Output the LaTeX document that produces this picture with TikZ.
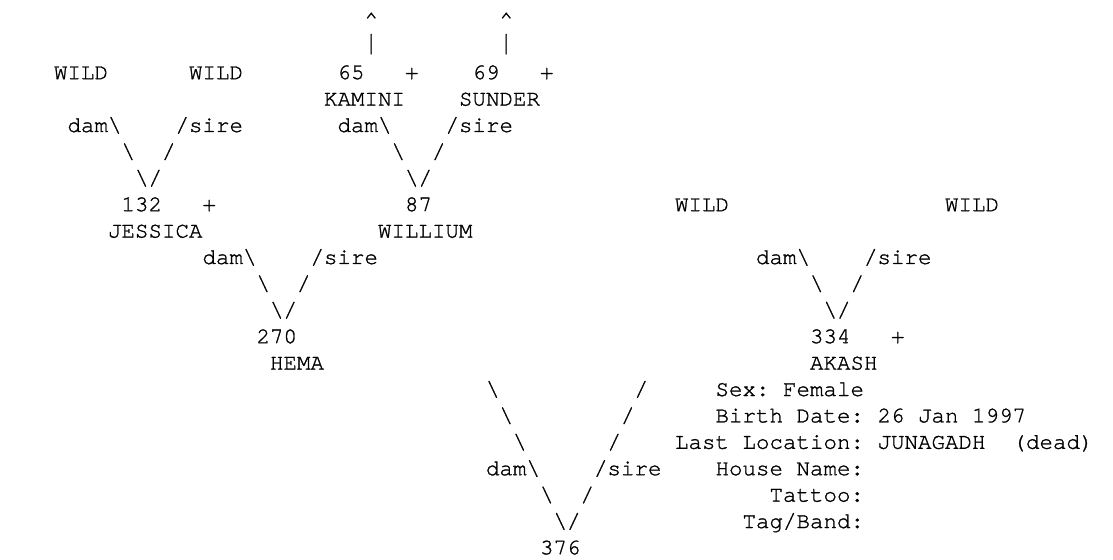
\documentclass[tikz,border=0pt]{standalone}
\usepackage{fontspec}
\usepackage{graphicx}
\usepackage{tikz}
\newfontfamily\pedface[FakeBold=1.2]{texgyrecursor-regular.otf}
\newcommand{\pedfont}{\pedface\fontsize{22.5}{26.4}\selectfont\frenchspacing}
\newcommand{\bsl}{\textbackslash}
\newcommand{\tallbar}{\raisebox{2pt}{\scalebox{1}[1.23]{\textbar}}}

\begin{document}
\begin{tikzpicture}[x=13.5pt,y=-26.4pt,
  cell/.style={anchor=base west,inner sep=0pt,outer sep=0pt,font=\pedfont}]
\useasboundingbox (0,0) rectangle (82.444,21.212);
% grand parents of WILLIUM
\node[cell] (upK) at (27,1) {\textasciicircum};
\node[cell] (upS) at (37,1) {\textasciicircum};
\node[cell] (barK) at (27,2) {\tallbar};
\node[cell] (barS) at (37,2) {\tallbar};
\node[cell] (wildJd) at (4,3) {WILD};
\node[cell] (wildJs) at (14,3) {WILD};
\node[cell] (idK) at (25,3) {65};
\node[cell] (plusK) at (30,3) {+};
\node[cell] (idS) at (35,3) {69};
\node[cell] (plusS) at (40,3) {+};
\node[cell] (nmK) at (24,4) {KAMINI};
\node[cell] (nmS) at (34,4) {SUNDER};
\node[cell] (damJ) at (5,5) {dam\bsl};
\node[cell] (sireJ) at (13,5) {/sire};
\node[cell] (damW) at (25,5) {dam\bsl};
\node[cell] (sireW) at (33,5) {/sire};
\node[cell] (bsJ) at (9,6) {\bsl};
\node[cell] (fsJ) at (12,6) {/};
\node[cell] (bsW) at (29,6) {\bsl};
\node[cell] (fsW) at (32,6) {/};
\node[cell] (vJ) at (10,7) {\bsl/};
\node[cell] (vW) at (30,7) {\bsl/};
% parents
\node[cell] (idJ) at (9,8) {132};
\node[cell] (plusJ) at (15,8) {+};
\node[cell] (idW) at (30,8) {87};
\node[cell] (wildAd) at (50,8) {WILD};
\node[cell] (wildAs) at (70,8) {WILD};
\node[cell] (nmJ) at (8,9) {JESSICA};
\node[cell] (nmW) at (28,9) {WILLIUM};
\node[cell] (damH) at (15,10) {dam\bsl};
\node[cell] (sireH) at (23,10) {/sire};
\node[cell] (damA) at (56,10) {dam\bsl};
\node[cell] (sireA) at (64,10) {/sire};
\node[cell] (bsH) at (19,11) {\bsl};
\node[cell] (fsH) at (22,11) {/};
\node[cell] (bsA) at (60,11) {\bsl};
\node[cell] (fsA) at (63,11) {/};
\node[cell] (vH) at (20,12) {\bsl/};
\node[cell] (vA) at (61,12) {\bsl/};
\node[cell] (idH) at (19,13) {270};
\node[cell] (idA) at (60,13) {334};
\node[cell] (plusA) at (66,13) {+};
\node[cell] (nmH) at (20,14) {HEMA};
\node[cell] (nmA) at (60,14) {AKASH};
% the animal itself
\node[cell] (bs1) at (36,15) {\bsl};
\node[cell] (fs1) at (47,15) {/};
\node[cell] (bs2) at (37,16) {\bsl};
\node[cell] (fs2) at (46,16) {/};
\node[cell] (bs3) at (38,17) {\bsl};
\node[cell] (fs3) at (45,17) {/};
\node[cell] (damX) at (36,18) {dam\bsl};
\node[cell] (sireX) at (44,18) {/sire};
\node[cell] (bs4) at (40,19) {\bsl};
\node[cell] (fs4) at (43,19) {/};
\node[cell] (vX) at (41,20) {\bsl/};
\node[cell] (idX) at (40,21) {376};
% details
\node[cell] (sex) at (53,15) {Sex: Female};
\node[cell] (birth) at (53,16) {Birth Date: 26 Jan 1997};
\node[cell] (loc) at (50,17) {Last Location: JUNAGADH\ \ (dead)};
\node[cell] (house) at (53,18) {House Name:};
\node[cell] (tattoo) at (57,19) {Tattoo:};
\node[cell] (tag) at (55,20) {Tag/Band:};
\end{tikzpicture}
\end{document}
